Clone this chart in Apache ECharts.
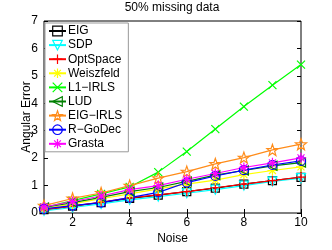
<!DOCTYPE html>
<html><head><meta charset="utf-8">
<script src="https://cdn.jsdelivr.net/npm/echarts@6/dist/echarts.min.js"></script>
<style>html,body{margin:0;padding:0;background:#fff}#c{width:332px;height:250px}</style>
</head><body><div id="c"></div>
<script>
const noise = [1,2,3,4,5,6,7,8,9,10];
const xTicks = [2,4,6,8,10];
const yTicks = [0,1,2,3,4,5,6,7];
const EIG       = [0.12,0.25,0.38,0.53,0.65,0.78,0.91,1.05,1.18,1.30];
const SDP       = [0.08,0.20,0.33,0.48,0.60,0.72,0.85,1.00,1.15,1.27];
const OptSpace  = [0.12,0.25,0.40,0.55,0.66,0.78,0.92,1.05,1.18,1.31];
const Weiszfeld = [0.15,0.33,0.52,0.70,0.88,1.05,1.20,1.40,1.55,1.68];
const L1IRLS    = [0.20,0.45,0.70,0.95,1.49,2.24,3.06,3.88,4.66,5.41];
const LUD       = [0.20,0.38,0.57,0.78,0.93,1.15,1.38,1.55,1.72,1.84];
const EIGIRLS   = [0.27,0.53,0.73,1.00,1.27,1.51,1.79,2.02,2.30,2.51];
const RGoDec    = [0.15,0.27,0.38,0.56,0.75,1.11,1.35,1.56,1.75,1.90];
const Grasta    = [0.22,0.42,0.62,0.85,1.00,1.23,1.44,1.66,1.83,2.01];

function starPath(){
  let p=[];
  for(let i=0;i<10;i++){
    const r = i%2===0?10:4;
    const a = -Math.PI/2 + i*Math.PI/5;
    p.push((10+r*Math.cos(a)).toFixed(2)+','+(10+r*Math.sin(a)).toFixed(2));
  }
  return 'path://M'+p.join('L')+'Z';
}
const SYM = {
  plus: 'path://M0,5L10,5M5,0L5,10',
  cross: 'path://M0,0L10,10M0,10L10,0',
  aster: 'path://M0,5L10,5M5,0L5,10M1.5,1.5L8.5,8.5M1.5,8.5L8.5,1.5',
  star: starPath()
};
function S(name, data, color, symbol, size, rot){
  return {
    name, type:'line', data: noise.map((x,i)=>[x,data[i]]),
    symbol, symbolSize: size, symbolRotate: rot||0,
    showAllSymbol: true,
    lineStyle:{color, width:1.2},
    itemStyle:{color:'transparent', borderColor:color, borderWidth:1.2},
    emphasis:{disabled:true}, animation:false
  };
}
const series = [
  S('EIG', EIG, '#000000', 'rect', 8),
  S('SDP', SDP, '#00ffff', 'triangle', 9, 180),
  S('OptSpace', OptSpace, '#ff0000', SYM.plus, 10),
  S('Weiszfeld', Weiszfeld, '#ffff00', SYM.aster, 10),
  S('L1−IRLS', L1IRLS, '#00ff00', SYM.cross, 8),
  S('LUD', LUD, '#007f00', 'triangle', 9, 90),
  S('EIG−IRLS', EIGIRLS, '#ff8c1a', SYM.star, 11),
  S('R−GoDec', RGoDec, '#0000ff', 'circle', 9),
  S('Grasta', Grasta, '#ff00ff', SYM.aster, 10)
];
const font = 'Liberation Sans, Arial, Helvetica, sans-serif';
const chart = echarts.init(document.getElementById('c'), null, {renderer:'canvas'});
chart.setOption({
  backgroundColor:'#fff',
  animation:false,
  title:{text:'50% missing data', left:172, textAlign:'center', top:2, padding:0,
    textStyle:{fontFamily:font, fontSize:12, fontWeight:'normal', color:'#000'}},
  grid:{left:44, top:21, width:257, height:201, show:true, borderColor:'#000', borderWidth:1, backgroundColor:'#fff'},
  legend:{orient:'vertical', left:45, top:23, itemWidth:17, itemHeight:12, itemGap:2.1,
    padding:[2,6,2,3], backgroundColor:'#fff', borderColor:'#999', borderWidth:1, borderRadius:0,
    itemStyle:{color:'transparent', borderColor:'inherit', borderWidth:1.2},
    textStyle:{fontFamily:font, fontSize:12, lineHeight:12, color:'#000', padding:[0,0,0,-3]},
    data: series.map(s=>({name:s.name, itemStyle:{color:'transparent', borderColor:s.lineStyle.color, borderWidth:1.2}}))},
  xAxis:[{type:'value', min:1, max:10, name:'Noise', nameLocation:'middle', nameGap:20, nameMoveOverlap:false,
    nameTextStyle:{fontFamily:font, fontSize:12, color:'#000'},
    axisLine:{show:false}, splitLine:{show:false},
    axisTick:{inside:true, length:4, lineStyle:{color:'#000'}, customValues:xTicks},
    axisLabel:{fontFamily:font, fontSize:12, color:'#000', margin:4, customValues:xTicks}},
   {type:'value', position:'top', min:1, max:10, axisLine:{show:false}, splitLine:{show:false},
    axisTick:{inside:true, length:4, lineStyle:{color:'#000'}, customValues:xTicks},
    axisLabel:{show:false, customValues:xTicks}}],
  yAxis:[{type:'value', min:0, max:7, interval:1, name:'Angular Error', nameLocation:'middle', nameGap:11, nameMoveOverlap:false,
    nameTextStyle:{fontFamily:font, fontSize:12, color:'#000'},
    axisLine:{show:false}, splitLine:{show:false},
    axisTick:{inside:true, length:4, lineStyle:{color:'#000'}},
    axisLabel:{fontFamily:font, fontSize:12, color:'#000', margin:6}},
   {type:'value', position:'right', min:0, max:7, interval:1, axisLine:{show:false}, splitLine:{show:false},
    axisTick:{inside:true, length:4, lineStyle:{color:'#000'}}, axisLabel:{show:false}}],
  series
});
</script></body></html>
